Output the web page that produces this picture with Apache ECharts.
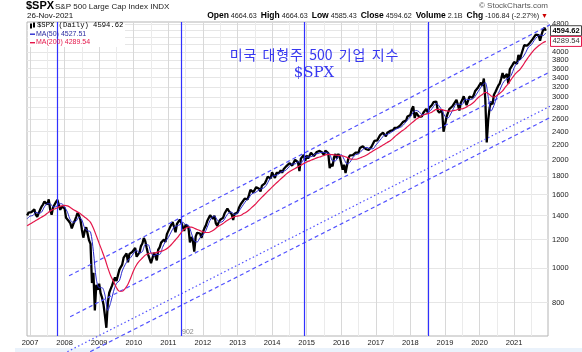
<!DOCTYPE html>
<html>
<head>
<meta charset="utf-8">
<script src="https://cdn.jsdelivr.net/npm/echarts@6/dist/echarts.min.js"></script>
<style>
html, body { margin: 0; padding: 0; background: #fff; }
#chart { width: 582px; height: 352px; }
</style>
</head>
<body>
<div id="chart"></div>
<script>
// $SPX closes, twice a month (mid-month, month-end), first point 30-Nov-2006
const priceStart = 2006 + 22 / 24;
const priceValues = [
  1400, 1427, 1418,
  // 2007
  1431, 1438, 1456, 1407, 1387, 1421, 1452, 1482, 1502, 1531, 1533, 1503,
  1553, 1455, 1407, 1474, 1484, 1527, 1549, 1549, 1452, 1481, 1468, 1468,
  // 2008
  1380, 1378, 1349, 1331, 1288, 1323, 1351, 1386, 1423, 1400, 1360, 1280,
  1214, 1267, 1298, 1283, 1193, 1166, 907, 969, 760, 896, 868, 903,
  // 2009
  850, 826, 790, 735, 680, 798, 852, 873, 893, 919, 940, 919,
  930, 987, 1005, 1021, 1068, 1057, 1097, 1036, 1094, 1096, 1107, 1115,
  // 2010
  1136, 1074, 1075, 1104, 1150, 1169, 1212, 1187, 1136, 1089, 1093, 1031,
  1064, 1102, 1080, 1049, 1125, 1141, 1176, 1183, 1200, 1181, 1242, 1258,
  // 2011
  1293, 1286, 1343, 1327, 1257, 1326, 1320, 1364, 1337, 1345, 1268, 1321,
  1316, 1292, 1178, 1219, 1191, 1110, 1224, 1253, 1253, 1247, 1212, 1258,
  // 2012
  1289, 1312, 1351, 1366, 1402, 1408, 1370, 1398, 1330, 1310, 1342, 1362,
  1356, 1379, 1418, 1407, 1465, 1441, 1428, 1412, 1360, 1416, 1430, 1426,
  // 2013
  1472, 1498, 1520, 1515, 1560, 1569, 1553, 1598, 1651, 1631, 1626, 1606,
  1680, 1686, 1662, 1633, 1697, 1682, 1722, 1757, 1798, 1806, 1775, 1848,
  // 2014
  1839, 1783, 1840, 1859, 1841, 1872, 1843, 1884, 1888, 1924, 1937, 1960,
  1973, 1931, 1955, 2003, 1985, 1972, 1862, 2018, 2039, 2068, 1990, 2059,
  // 2015
  2020, 1995, 2097, 2105, 2053, 2068, 2106, 2086, 2122, 2107, 2096, 2063,
  2126, 2104, 2092, 1900, 1953, 1920, 2033, 2079, 2023, 2080, 2043, 2044,
  // 2016
  1880, 1940, 1840, 1932, 2027, 2060, 2081, 2065, 2047, 2097, 2071, 2099,
  2161, 2174, 2184, 2171, 2147, 2168, 2133, 2126, 2180, 2199, 2262, 2239,
  // 2017
  2270, 2279, 2349, 2364, 2385, 2363, 2329, 2384, 2402, 2412, 2433, 2423,
  2459, 2470, 2464, 2472, 2500, 2519, 2557, 2575, 2579, 2648, 2676, 2674,
  // 2018
  2776, 2824, 2620, 2714, 2747, 2641, 2670, 2648, 2711, 2705, 2779, 2718,
  2798, 2816, 2850, 2902, 2905, 2914, 2750, 2712, 2730, 2760, 2400, 2507,
  // 2019
  2630, 2704, 2775, 2784, 2822, 2834, 2905, 2946, 2850, 2752, 2890, 2942,
  3014, 2980, 2848, 2926, 3007, 2977, 2986, 3038, 3120, 3141, 3191, 3231,
  // 2020
  3289, 3226, 3380, 2954, 2240, 2585, 2800, 2912, 2860, 3044, 3100, 3100,
  3226, 3271, 3373, 3500, 3385, 3363, 3483, 3270, 3585, 3622, 3695, 3756,
  // 2021
  3795, 3714, 3934, 3811, 3943, 3973, 4185, 4181, 4173, 4204, 4255, 4298,
  4360, 4395, 4480, 4523, 4468, 4308, 4471, 4605, 4683, 4595
];

// moving averages, month-end, first point Nov-2006
const maStart = 2006 + 11 / 12;
const ma50Values = [
  1370, 1395,
  1400, 1430, 1420, 1430, 1480, 1510, 1510, 1480, 1480, 1510, 1510, 1480,
  1430, 1360, 1340, 1350, 1385, 1360, 1290, 1270, 1260, 1110, 930, 880,
  880, 840, 760, 800, 860, 905, 920, 980, 1020, 1050, 1070, 1100,
  1120, 1100, 1110, 1160, 1160, 1100, 1080, 1090, 1090, 1140, 1185, 1215,
  1260, 1300, 1310, 1320, 1340, 1320, 1315, 1250, 1190, 1180, 1215, 1235,
  1270, 1330, 1380, 1395, 1360, 1340, 1350, 1390, 1425, 1430, 1410, 1420,
  1460, 1500, 1540, 1570, 1610, 1620, 1640, 1660, 1670, 1700, 1760, 1800,
  1810, 1820, 1850, 1860, 1880, 1920, 1950, 1950, 1980, 1960, 2010, 2040,
  2040, 2050, 2080, 2085, 2100, 2100, 2095, 2080, 1990, 1990, 2050, 2070,
  2010, 1950, 1970, 2030, 2070, 2080, 2120, 2160, 2170, 2150, 2150, 2200,
  2250, 2300, 2350, 2360, 2380, 2410, 2440, 2460, 2480, 2530, 2590, 2640,
  2720, 2750, 2730, 2680, 2680, 2710, 2750, 2820, 2880, 2830, 2750, 2650,
  2620, 2690, 2790, 2870, 2860, 2860, 2960, 2950, 2950, 2980, 3060, 3150,
  3240, 3290, 3010, 2740, 2840, 3000, 3130, 3270, 3350, 3390, 3450, 3620,
  3730, 3810, 3870, 3990, 4140, 4200, 4320, 4420, 4470, 4450, 4530
];
const ma200Values = [
  1310, 1325,
  1340, 1355, 1370, 1385, 1400, 1420, 1440, 1455, 1465, 1480, 1490, 1495,
  1490, 1475, 1455, 1440, 1425, 1405, 1385, 1365, 1340, 1290, 1230, 1170,
  1115, 1060, 1000, 950, 915, 880, 860, 860, 875, 900, 940, 985,
  1020, 1045, 1065, 1085, 1095, 1100, 1100, 1105, 1110, 1115, 1125, 1140,
  1160, 1185, 1210, 1240, 1270, 1290, 1300, 1300, 1290, 1280, 1270, 1260,
  1255, 1255, 1265, 1280, 1300, 1315, 1330, 1350, 1365, 1380, 1390, 1395,
  1400, 1415, 1430, 1450, 1475, 1500, 1530, 1560, 1590, 1620, 1650, 1680,
  1710, 1740, 1770, 1800, 1830, 1855, 1875, 1895, 1915, 1935, 1955, 1975,
  1990, 2005, 2020, 2035, 2045, 2060, 2070, 2075, 2070, 2065, 2060, 2055,
  2050, 2035, 2015, 2010, 2010, 2020, 2035, 2050, 2070, 2095, 2120, 2145,
  2165, 2190, 2215, 2240, 2265, 2300, 2340, 2375, 2410, 2440, 2480, 2520,
  2560, 2600, 2630, 2660, 2680, 2695, 2710, 2740, 2770, 2770, 2765, 2750,
  2740, 2740, 2750, 2760, 2780, 2780, 2800, 2830, 2860, 2900, 2960, 3010,
  3050, 3090, 3070, 3020, 3000, 3030, 3070, 3120, 3200, 3270, 3360, 3450,
  3520, 3580, 3670, 3780, 3880, 3980, 4070, 4140, 4200, 4250, 4290
];

const yearLabels = [2007, 2008, 2009, 2010, 2011, 2012, 2013, 2014, 2015, 2016, 2017, 2018, 2019, 2020, 2021];
const priceTicks = [800, 1000, 1200, 1400, 1600, 1800, 2000, 2200, 2400, 2600, 2800, 3000, 3200, 3400, 3600, 3800, 4000, 4800];
const gridLevels = [800, 1000, 1200, 1400, 1600, 1800, 2000, 2200, 2400, 2600, 2800, 3000, 3200, 3400, 3600, 3800, 4000, 4200, 4400, 4600, 4800];

// 902-day cycle lines (decimal years)
const cycleLines = [2007.78, 2011.37, 2014.93, 2018.51];

// channel trendlines, [year, price] endpoints
const channelTop = [[2008.13, 950], [2022.97, 5320]];
const channelMid = [[2008.16, 730], [2022.97, 3920]];
const channelDot = [[2008.08, 583], [2022.97, 3140]];
const channelLow = [[2008.74, 583], [2022.97, 2920]];

const lastClose = 4594.62;
const lastMa50 = 4527.51;
const lastMa200 = 4289.54;

const log = v => Math.log10(v);
const pricePoints = priceValues.map((v, i) => [priceStart + i / 24, log(v)]);
const ma50Points = ma50Values.map((v, i) => [maStart + i / 12, log(v)]);
const ma200Points = ma200Values.map((v, i) => [maStart + i / 12, log(v)]);
const halfYears = yearLabels.flatMap(y => [y, y + 0.5]);

function trendSeries(points, dash) {
  return {
    type: 'line',
    data: points.map(p => [p[0], log(p[1])]),
    clip: false,
    silent: true,
    symbol: 'none',
    z: 4,
    lineStyle: { color: '#5252ff', width: 1.2, type: dash }
  };
}

const chart = echarts.init(document.getElementById('chart'));
const font = 'Liberation Sans, Arial, sans-serif';

chart.setOption({
  animation: false,
  backgroundColor: '#fff',
  grid: {
    left: 27, right: 34, top: 22, bottom: 16,
    show: true, borderColor: '#b4b4b4', borderWidth: 1, backgroundColor: '#fff'
  },
  xAxis: {
    type: 'value',
    min: 2006.913,
    max: 2021.98,
    axisLine: { show: false },
    axisTick: { show: false, customValues: halfYears },
    axisLabel: {
      customValues: yearLabels,
      formatter: v => String(Math.round(v)),
      fontSize: 7.5, color: '#222', margin: 3, fontFamily: font
    },
    splitLine: { show: true, lineStyle: { color: ['#d8d8d8', '#ebebeb'], width: 1 } }
  },
  yAxis: {
    type: 'value',
    position: 'right',
    min: log(645),
    max: log(4860),
    axisLine: { show: false },
    axisTick: { show: false, customValues: gridLevels.map(log) },
    axisLabel: {
      customValues: priceTicks.map(log),
      formatter: v => String(Math.round(Math.pow(10, v))),
      fontSize: 7.5, color: '#222', margin: 4, fontFamily: font
    },
    splitLine: { show: true, lineStyle: { color: '#e6e6e6', width: 1 } }
  },
  series: [
    {
      name: '$SPX',
      type: 'line',
      data: pricePoints,
      symbol: 'none',
      z: 3,
      lineStyle: { color: '#000', width: 2.3, join: 'bevel' },
      markLine: {
        silent: true,
        symbol: 'none',
        label: { show: false },
        lineStyle: { color: '#3030ff', width: 1.2, type: 'solid' },
        data: cycleLines.map(x => ({ xAxis: x }))
      }
    },
    {
      name: 'MA(50)',
      type: 'line',
      data: ma50Points,
      symbol: 'none',
      smooth: 0.3,
      z: 5,
      lineStyle: { color: '#2a2ad0', width: 1 }
    },
    {
      name: 'MA(200)',
      type: 'line',
      data: ma200Points,
      symbol: 'none',
      smooth: 0.3,
      z: 5,
      lineStyle: { color: '#e4164a', width: 1.2 }
    },
    trendSeries(channelTop, [4, 3]),
    trendSeries(channelMid, [4, 3]),
    trendSeries(channelDot, [1.5, 2.5]),
    trendSeries(channelLow, [4, 3])
  ]
});

const yClose = chart.convertToPixel({ yAxisIndex: 0 }, log(lastClose));
const yMa200 = chart.convertToPixel({ yAxisIndex: 0 }, log(lastMa200));

chart.setOption({
  graphic: [
    { type: 'rect', shape: { x: 15, y: 348, width: 567, height: 4 }, style: { fill: '#eaf2fb' }, silent: true },
    // header
    { type: 'text', x: 26, y: 6, style: { text: '$SPX', font: 'bold 11px ' + font, fill: '#000', textVerticalAlign: 'middle' } },
    { type: 'text', x: 55, y: 6.5, style: { text: 'S&P 500 Large Cap Index INDX', font: '8px ' + font, fill: '#222', textVerticalAlign: 'middle' } },
    { type: 'text', x: 548, y: 6, style: { text: '\u00a9 StockCharts.com', font: '8px ' + font, fill: '#555', textAlign: 'right', textVerticalAlign: 'middle' } },
    { type: 'text', x: 27, y: 16, style: { text: '26-Nov-2021', font: '8px ' + font, fill: '#111', textVerticalAlign: 'middle' } },
    {
      type: 'text', x: 548, y: 16,
      style: {
        text: '{b|Open} 4664.63  {b|High} 4664.63  {b|Low} 4585.43  {b|Close} 4594.62  {b|Volume} 2.1B  {b|Chg} -106.84 (-2.27%) {r|\u25bc}',
        font: '7.2px ' + font, fill: '#222', textAlign: 'right', textVerticalAlign: 'middle',
        rich: {
          b: { font: 'bold 8.5px ' + font, fill: '#000' },
          r: { font: '7px ' + font, fill: '#c00' }
        }
      }
    },
    // legend box
    { type: 'rect', z: 1, shape: { x: 28, y: 23, width: 97, height: 24 }, style: { fill: '#fff' }, silent: true },
    { type: 'rect', z: 6, shape: { x: 30, y: 23.5, width: 2, height: 5 }, style: { fill: '#000' } },
    { type: 'rect', z: 6, shape: { x: 33, y: 22.5, width: 2, height: 5 }, style: { fill: '#000' } },
    { type: 'text', z: 6, x: 37, y: 25.5, style: { text: '$SPX (Daily) ' + lastClose.toFixed(2), font: '7.2px Liberation Mono, monospace', fill: '#000', textVerticalAlign: 'middle' } },
    { type: 'rect', z: 6, shape: { x: 30, y: 33.5, width: 5, height: 1.4 }, style: { fill: '#2a2ad0' } },
    { type: 'text', z: 6, x: 36, y: 34, style: { text: 'MA(50) ' + lastMa50.toFixed(2), font: '7px ' + font, fill: '#2a2aa0', textVerticalAlign: 'middle' } },
    { type: 'rect', z: 6, shape: { x: 30, y: 42, width: 5, height: 1.4 }, style: { fill: '#e4164a' } },
    { type: 'text', z: 6, x: 36, y: 42.5, style: { text: 'MA(200) ' + lastMa200.toFixed(2), font: '7px ' + font, fill: '#e4164a', textVerticalAlign: 'middle' } },
    // Korean title
    { type: 'text', z: 6, x: 314, y: 55, style: { text: '미\u200a국  대\u200a형\u200a주  500  기\u200a업  지\u200a수', font: '14px Noto Sans CJK KR', fill: '#3838f0', textAlign: 'center', textVerticalAlign: 'middle' } },
    { type: 'text', z: 6, x: 314, y: 73, style: { text: '$SPX', font: '15px DejaVu Serif, Liberation Serif, serif', fill: '#3838f0', textAlign: 'center', textVerticalAlign: 'middle' } },
    { type: 'text', z: 6, x: 182, y: 332, style: { text: '902', font: '7px ' + font, fill: '#888', textVerticalAlign: 'middle' } },
    // last value boxes on the price axis
    { type: 'rect', z: 7, shape: { x: 550.5, y: yClose - 5, width: 31, height: 10 }, style: { fill: '#fff', stroke: '#444', lineWidth: 1 } },
    { type: 'text', z: 8, x: 566, y: yClose, style: { text: lastClose.toFixed(2), font: 'bold 7.5px ' + font, fill: '#000', textAlign: 'center', textVerticalAlign: 'middle' } },
    { type: 'rect', z: 7, shape: { x: 550.5, y: yMa200 - 5, width: 31, height: 10 }, style: { fill: '#fff', stroke: '#e4164a', lineWidth: 1 } },
    { type: 'text', z: 8, x: 566, y: yMa200, style: { text: lastMa200.toFixed(2), font: '7.5px ' + font, fill: '#333', textAlign: 'center', textVerticalAlign: 'middle' } }
  ]
});
</script>
</body>
</html>
